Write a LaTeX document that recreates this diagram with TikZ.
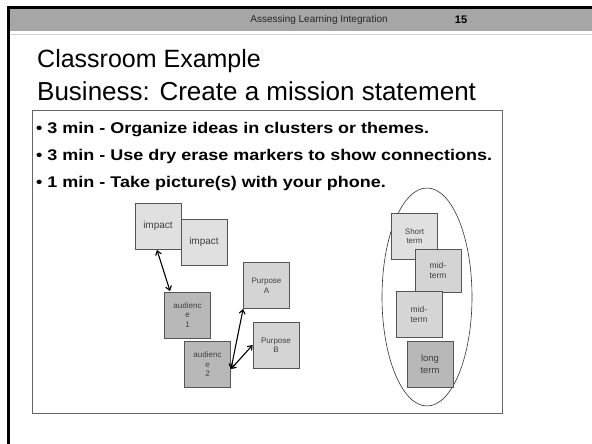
\documentclass[tikz,border=0pt]{standalone}
\usepackage{fontspec}
\setmainfont{Liberation Sans}
\newfontfamily\bulletfont{Liberation Sans}[FakeStretch=1.16]
\usetikzlibrary{arrows.meta,shapes.geometric}
\definecolor{hdrgray}{HTML}{A6A6A6}
\definecolor{lightA}{HTML}{E0E0E0}
\definecolor{lightB}{HTML}{D4D4D4}
\definecolor{darkC}{HTML}{B8B8B8}
\definecolor{boxline}{HTML}{555555}
\tikzset{
  card/.style={draw=boxline, line width=0.8pt, minimum width=46pt, minimum height=46pt,
    inner sep=1pt, align=center, text=black!75, font=\fontsize{8}{9.5}\selectfont},
  link/.style={line width=1.1pt, {Straight Barb[length=4pt,width=6pt]}-{Straight Barb[length=4pt,width=6pt]}},
  bullet/.style={anchor=base west, inner sep=0, font=\bulletfont\bfseries\fontsize{15.5}{18}\selectfont},
}
\begin{document}
\begin{tikzpicture}[x=1pt,y=-1pt]
\useasboundingbox (0,0) rectangle (592,444);
\fill[white] (0,0) rectangle (592,444);
% header
\fill[hdrgray] (9,9) rectangle (592,31);
\fill[black] (7,6) rectangle (592,9);
\fill[black] (7,6) rectangle (9.5,444);
\draw[black!18, line width=1pt] (9.5,35) -- (592,35);
\node[font=\fontsize{10}{12}\selectfont, text=black!85] (hdr) at (319,20) {Assessing Learning Integration};
\node[font=\bfseries\fontsize{11}{12}\selectfont] (pg) at (461,20) {15};
% title
\node[anchor=base west, font=\fontsize{25}{28}\selectfont, inner sep=0] (t1) at (37,67) {Classroom Example};
\node[anchor=base west, font=\fontsize{26}{28}\selectfont, inner sep=0] (t2) at (37,100) {Business: Create a mission statement};
% content box
\draw[black!60, line width=0.8pt] (32,110) rectangle (502,413);
\node[bullet] (b1) at (36,133) {• 3 min - Organize ideas in clusters or themes.};
\node[bullet] (b2) at (36,160) {• 3 min - Use dry erase markers to show connections.};
\node[bullet] (b3) at (36,187) {• 1 min - Take picture(s) with your phone.};
% left cluster
\node[card, fill=lightA, font=\fontsize{10}{12}\selectfont] (imp1) at (158,226) {impact};
\node[card, fill=lightA, font=\fontsize{10}{12}\selectfont] (imp2) at (204,242) {impact};
\node[card, fill=lightB] (pa) at (266.5,285.5) {Purpose\\A};
\node[card, fill=darkC] (au1) at (187.5,315) {audienc\\e\\1};
\node[card, fill=lightB] (pb) at (276,345) {Purpose\\B};
\node[card, fill=darkC] (au2) at (207.5,364.5) {audienc\\e\\2};
\coordinate (c1) at (157,250);
\coordinate (c2) at (170,291);
\coordinate (c3) at (231,369);
\draw[link] (c1) -- (c2);
\draw[link] (c3) -- (pa.south west);
\draw[link] (c3) -- (pb.west);
% right cluster
\node[draw=black!80, line width=0.6pt, ellipse, minimum width=90pt, minimum height=218pt, inner sep=0] (ell) at (427,297) {};
\node[card, fill=lightA, font=\fontsize{8}{9.5}\selectfont] (st) at (414.5,236) {Short\\term};
\node[card, fill=lightB, minimum height=43pt, font=\fontsize{8.5}{10}\selectfont] (m1) at (438,270.5) {mid-\\term};
\node[card, fill=lightB!80!lightA, font=\fontsize{8.5}{10}\selectfont] (m2) at (419,314.5) {mid-\\term};
\node[card, fill=darkC, font=\fontsize{9.5}{11.5}\selectfont] (lt) at (430,364) {long\\term};
\end{tikzpicture}
\end{document}
